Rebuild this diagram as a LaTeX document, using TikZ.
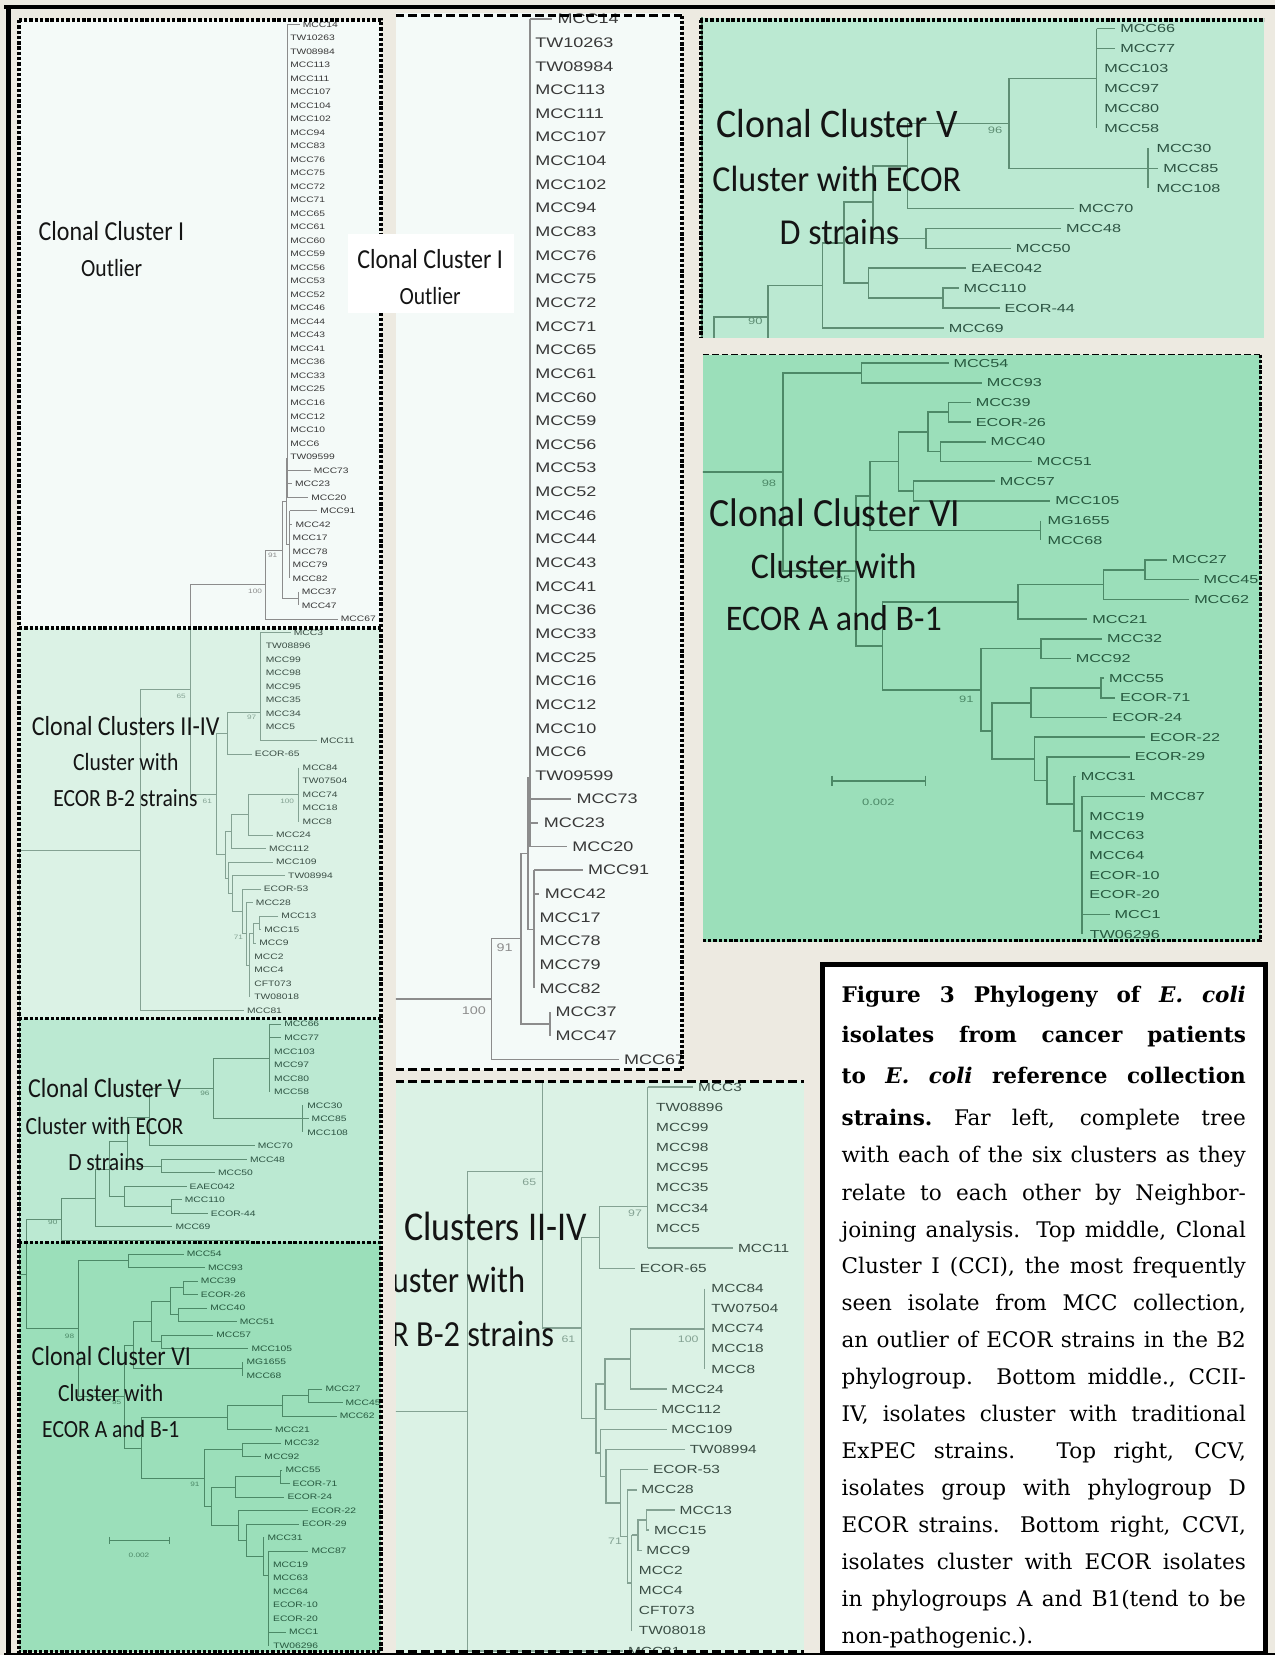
\documentclass[tikz,border=0pt]{standalone}
\usepackage{fontspec}
\setmainfont{DejaVu Serif}
\newfontfamily\clfont{Carlito}
\newfontfamily\lffont{Liberation Sans}

\definecolor{bgbeige}{HTML}{EDEAE1}
\definecolor{fillI}{HTML}{F4FAF8}
\definecolor{fillII}{HTML}{DBF2E5}
\definecolor{fillV}{HTML}{BBE9D2}
\definecolor{fillVI}{HTML}{9BDFBA}
\definecolor{lineI}{HTML}{8C8C8C}
\definecolor{textI}{HTML}{383838}
\definecolor{lineII}{HTML}{84A293}
\definecolor{textII}{HTML}{3A4D44}
\definecolor{lineV}{HTML}{5E8E74}
\definecolor{textV}{HTML}{2C5342}
\definecolor{lineVI}{HTML}{4C8967}
\definecolor{textVI}{HTML}{26583E}
\definecolor{clink}{HTML}{141414}
\colorlet{treecol}{lineI}
\colorlet{leafcol}{textI}
\def\tlw{0.4pt}

\tikzset{
  tl/.style={draw=treecol, line width=\tlw},
  leaf/.style={anchor=west, inner xsep=0.95pt, inner ysep=0pt, xscale=1.3,
    text=leafcol, font=\lffont\fontsize{3.75}{4}\selectfont},
  boot/.style={inner sep=0pt, xscale=1.3, text=treecol,
    font=\lffont\fontsize{3}{3.5}\selectfont},
  cltitle/.style={inner sep=0pt, xscale=0.875, text=clink,
    font=\clfont\fontsize{13}{15}\selectfont},
  clsub/.style={cltitle, font=\clfont\fontsize{11.7}{14}\selectfont},
  sqborder/.style={line width=1.6pt, dash pattern=on 1.6pt off 0.9pt},
  lgborder/.style={line width=1.4pt, dash pattern=on 4pt off 2pt},
  thinborder/.style={line width=0.6pt, dash pattern=on 3pt off 1.5pt},
  capline/.style={anchor=base west, inner sep=0pt, font=\fontsize{10.2}{12}\selectfont},
}

% one leaf of the tree: x, row, name
\newcommand\leafat[3]{\node[leaf] (lf#2) at (#1,#2) {#3};}

% the complete tree, x in px, y in rows
\newcommand\clustertree{%
\begin{scope}[y={(0,-6.4pt)}, yshift=-5.2pt]
  % root
  \draw[tl] (132.6,62.1) -- (18,62.1) -- (18,93.48) -- (25.3,93.48);
  % cluster I
  \draw[tl] (272,1) -- (272,36);
  \draw[tl] (272,1) -- (284,1) (272,34) -- (294.3,34) (272,35) -- (276.6,35) (272,36) -- (292,36);
  \draw[tl] (274.3,37) -- (274.3,42) (274.3,37) -- (300.6,37) (274.3,38) -- (277.1,38);
  \draw[tl] (272,33.1) -| (270.9,39.5) -- (274.3,39.5);
  \draw[tl] (270.9,36.3) -| (267.1,43.5) -- (282.9,43.5);
  \draw[tl] (282.9,43) -- (282.9,44);
  \draw[tl] (267.1,39.9) -| (251.1,45) -- (320,45);
  \draw[tl] (251.1,42.45) -| (180.1,57.96) -- (204.7,57.96);
  \leafat{284}{1}{MCC14}
  \foreach \r/\t in {2/TW10263,3/TW08984,4/MCC113,5/MCC111,6/MCC107,7/MCC104,
      8/MCC102,9/MCC94,10/MCC83,11/MCC76,12/MCC75,13/MCC72,14/MCC71,15/MCC65,
      16/MCC61,17/MCC60,18/MCC59,19/MCC56,20/MCC53,21/MCC52,22/MCC46,23/MCC44,
      24/MCC43,25/MCC41,26/MCC36,27/MCC33,28/MCC25,29/MCC16,30/MCC12,31/MCC10,
      32/MCC6,33/TW09599}
    {\leafat{272}{\r}{\t}}
  \leafat{294.3}{34}{MCC73}
  \leafat{276.6}{35}{MCC23}
  \leafat{292}{36}{MCC20}
  \leafat{300.6}{37}{MCC91}
  \leafat{277.1}{38}{MCC42}
  \foreach \r/\t in {39/MCC17,40/MCC78,41/MCC79,42/MCC82} {\leafat{274.3}{\r}{\t}}
  \foreach \r/\t in {43/MCC37,44/MCC47} {\leafat{282.9}{\r}{\t}}
  \leafat{320}{45}{MCC67}
  \node[boot] (bI91) at (258.3,40.3) {91};
  \node[boot] (bI100) at (241.7,42.96) {100};
  % clusters II-IV
  \draw[tl] (180.1,50.2) -| (132.6,74) -- (231.1,74);
  \draw[tl] (215.9,53.46) -| (204.7,62.46) -- (213.9,62.46);
  \draw[tl] (246.5,51.92) -| (215.9,55) -- (238.5,55);
  \draw[tl] (246.5,46) -- (246.5,54) (246.5,46) -- (275.4,46) (246.5,54) -- (300.6,54);
  \draw[tl] (219.5,60.75) -| (213.9,64.17) -- (216.8,64.17);
  \draw[tl] (235.7,59.5) -| (219.5,62) -- (252.1,62);
  \draw[tl] (282.3,58) -| (235.7,61) -- (258.5,61);
  \draw[tl] (282.3,56) -- (282.3,60);
  \draw[tl] (258.5,63) -| (216.8,65.33) -- (220.1,65.33);
  \draw[tl] (270.1,64) -| (220.1,66.66) -- (229.4,66.66);
  \draw[tl] (246.9,65) -| (229.4,68.31) -- (233.6,68.31);
  \draw[tl] (239.5,66) -| (233.6,70.63) -- (236.4,70.63);
  \draw[tl] (236.4,68.25) -- (236.4,73) (236.4,68.25) -- (240.5,68.25);
  \draw[tl] (245.8,67.5) -| (240.5,69) -- (242.7,69);
  \draw[tl] (263.7,67) -| (245.8,68) -- (247.5,68);
  \leafat{275.4}{46}{MCC3}
  \foreach \r/\t in {47/TW08896,48/MCC99,49/MCC98,50/MCC95,51/MCC35,52/MCC34,53/MCC5}
    {\leafat{248.9}{\r}{\t}}
  \leafat{300.6}{54}{MCC11}
  \leafat{238.5}{55}{ECOR-65}
  \foreach \r/\t in {56/MCC84,57/TW07504,58/MCC74,59/MCC18,60/MCC8} {\leafat{283.8}{\r}{\t}}
  \leafat{258.5}{61}{MCC24}
  \leafat{252.1}{62}{MCC112}
  \leafat{258.5}{63}{MCC109}
  \leafat{270.1}{64}{TW08994}
  \leafat{246.9}{65}{ECOR-53}
  \leafat{239.5}{66}{MCC28}
  \leafat{263.7}{67}{MCC13}
  \leafat{247.5}{68}{MCC15}
  \leafat{242.7}{69}{MCC9}
  \foreach \r/\t in {70/MCC2,71/MCC4,72/CFT073,73/TW08018} {\leafat{238}{\r}{\t}}
  \leafat{231.1}{74}{MCC81}
  \node[boot] (bII65) at (171.7,50.7) {65};
  \node[boot] (bII61) at (196.4,58.5) {61};
  \node[boot] (bII97) at (238.5,52.26) {97};
  \node[boot] (bII100) at (272.1,58.51) {100};
  \node[boot] (bII71) at (225.9,68.55) {71};
  % cluster V
  \draw[tl] (57.8,89.43) -| (25.3,97.53) -- (74.2,97.53);
  \draw[tl] (90.4,87.86) -| (57.8,91) -- (237,91);
  \draw[tl] (103.4,85.72) -| (90.4,90) -- (163.3,90);
  \draw[tl] (120.6,83.69) -| (103.4,87.75) -- (118,87.75);
  \draw[tl] (141.5,81.88) -| (120.6,85.5) -- (152.5,85.5);
  \draw[tl] (202.5,79.75) -| (141.5,84) -- (241.3,84);
  \draw[tl] (255.2,77.5) -| (202.5,82) -- (286.2,82);
  \draw[tl] (255.2,75) -- (255.2,80) (255.2,75) -- (266.4,75) (255.2,76) -- (266.4,76);
  \draw[tl] (286.2,81) -- (286.2,83) (286.2,82) -- (292.3,82);
  \draw[tl] (233.9,85) -| (152.5,86) -- (203.6,86);
  \draw[tl] (176.7,87) -| (118,88.5) -- (162.8,88.5);
  \draw[tl] (172.2,88) -| (162.8,89) -- (196.9,89);
  \leafat{266.4}{75}{MCC66}
  \leafat{266.4}{76}{MCC77}
  \foreach \r/\t in {77/MCC103,78/MCC97,79/MCC80,80/MCC58} {\leafat{256.8}{\r}{\t}}
  \leafat{288.2}{81}{MCC30}
  \leafat{292.3}{82}{MCC85}
  \leafat{288.2}{83}{MCC108}
  \leafat{241.3}{84}{MCC70}
  \leafat{233.9}{85}{MCC48}
  \leafat{203.6}{86}{MCC50}
  \leafat{176.7}{87}{EAEC042}
  \leafat{172.2}{88}{MCC110}
  \leafat{196.9}{89}{ECOR-44}
  \leafat{163.3}{90}{MCC69}
  \node[boot] (bV96) at (194.2,80.09) {96};
  \node[boot] (bV90) at (50,89.67) {90};
  % cluster VI
  \draw[tl] (121.6,92.5) -| (74.2,102.56) -- (118.3,102.56);
  \draw[tl] (174,92) -| (121.6,93) -- (194.1,93);
  \draw[tl] (126.8,98.75) -| (118.3,106.36) -- (134.3,106.36);
  \draw[tl] (143.9,97) -| (126.8,100.5) -- (229.3,100.5);
  \draw[tl] (161.8,95.5) -| (143.9,98.5) -- (152.8,98.5);
  \draw[tl] (174,94.5) -| (161.8,96.5) -- (169.1,96.5);
  \draw[tl] (187.4,94) -| (174,95) -- (187.4,95);
  \draw[tl] (196.3,96) -| (169.1,97) -- (224.2,97);
  \draw[tl] (201.9,98) -| (152.8,99) -- (235.3,99);
  \draw[tl] (229.3,100) -- (229.3,101);
  \draw[tl] (215.9,104.13) -| (134.3,108.59) -- (193.4,108.59);
  \draw[tl] (267.2,103.25) -| (215.9,105) -- (257.6,105);
  \draw[tl] (292.2,102.5) -| (267.2,104) -- (318.9,104);
  \draw[tl] (305.5,102) -| (292.2,103) -- (324.5,103);
  \draw[tl] (229.7,106.5) -| (193.4,110.67) -- (200.3,110.67);
  \draw[tl] (266.5,106) -| (229.7,107) -- (247.6,107);
  \draw[tl] (223.5,109.25) -| (200.3,112.1) -- (225.7,112.1);
  \draw[tl] (265.9,108.5) -| (223.5,110) -- (269.4,110);
  \draw[tl] (267.6,108) -| (265.9,109) -- (274.3,109);
  \draw[tl] (292.2,111) -| (225.7,113.19) -- (233.1,113.19);
  \draw[tl] (283.2,112) -| (233.1,114.38) -- (249.4,114.38);
  \draw[tl] (250.5,113) -| (249.4,115.76) -- (254.3,115.76);
  \draw[tl] (254.3,114) -- (254.3,121) (254.3,114) -- (292.2,114) (254.3,120) -- (271,120);
  \draw[tl] (103.8,113.23) -- (160.2,113.23) (103.8,112.95) -- (103.8,113.5) (160.2,112.95) -- (160.2,113.5);
  \leafat{174}{92}{MCC54}
  \leafat{194.1}{93}{MCC93}
  \leafat{187.4}{94}{MCC39}
  \leafat{187.4}{95}{ECOR-26}
  \leafat{196.3}{96}{MCC40}
  \leafat{224.2}{97}{MCC51}
  \leafat{201.9}{98}{MCC57}
  \leafat{235.3}{99}{MCC105}
  \leafat{230.6}{100}{MG1655}
  \leafat{230.6}{101}{MCC68}
  \leafat{305.5}{102}{MCC27}
  \leafat{324.5}{103}{MCC45}
  \leafat{318.9}{104}{MCC62}
  \leafat{257.6}{105}{MCC21}
  \leafat{266.5}{106}{MCC32}
  \leafat{247.6}{107}{MCC92}
  \leafat{267.6}{108}{MCC55}
  \leafat{274.3}{109}{ECOR-71}
  \leafat{269.4}{110}{ECOR-24}
  \leafat{292.2}{111}{ECOR-22}
  \leafat{283.2}{112}{ECOR-29}
  \leafat{250.6}{113}{MCC31}
  \leafat{292.2}{114}{MCC87}
  \foreach \r/\t in {115/MCC19,116/MCC63,117/MCC64,118/ECOR-10,119/ECOR-20} {\leafat{255.8}{\r}{\t}}
  \leafat{271}{120}{MCC1}
  \leafat{256}{121}{TW06296}
  \node[boot] (bVI98) at (65.9,98.1) {98};
  \node[boot] (bVI95) at (110.5,102.97) {95};
  \node[boot] (bVI91) at (184.7,109.05) {91};
  \node[boot] (scalelab) at (131.7,114.3) {0.002};
\end{scope}
% cluster names
\node[cltitle] (cI) at (105.6,219) {Clonal Cluster I};
\node[clsub] (cIa) at (105.8,254) {Outlier};
\node[cltitle] (cII) at (119.2,688) {Clonal Clusters II-IV};
\node[clsub] (cIIa) at (119.2,722) {Cluster with};
\node[clsub] (cIIb) at (118.9,756) {ECOR B-2 strains};
\node[cltitle] (cV) at (99.2,1031) {Clonal Cluster V};
\node[clsub] (cVa) at (99,1067) {Cluster with ECOR};
\node[clsub] (cVb) at (100.6,1101) {D strains};
\node[cltitle] (cVI) at (105.5,1285) {Clonal Cluster VI};
\node[clsub] (cVIa) at (104.8,1320) {Cluster with};
\node[clsub] (cVIb) at (105,1354) {ECOR A and B-1};
}

% clip, transform, line colour, text colour, line width
\newcommand\treepanel[5]{%
  \begin{scope}
    \clip #1;
    \colorlet{treecol}{#3}\colorlet{leafcol}{#4}\def\tlw{#5}%
    \begin{scope}[#2, transform shape]
      \clustertree
    \end{scope}
  \end{scope}}

\begin{document}
\begin{tikzpicture}[x=0.5pt, y=-0.5pt]
\useasboundingbox (0,0) rectangle (1208,1568);
\fill[bgbeige] (0,0) rectangle (1208,1568);

% panel fills
\fill[fillI] (18,19) rectangle (361,595);
\fill[fillII] (18,595) rectangle (361,965);
\fill[fillV] (18,965) rectangle (361,1177);
\fill[fillVI] (18,1177) rectangle (361,1565);
\fill[fillI] (375,12) rectangle (646,1014);
\fill[fillII] (375,1024) rectangle (762,1568);
\fill[fillV] (663,17) rectangle (1198,320);
\fill[fillVI] (666,336) rectangle (1195,892);

% far left, complete tree
\treepanel{(18,19) rectangle (361,595)}{shift={(0,0)}}{lineI}{textI}{0.4pt}
\treepanel{(18,595) rectangle (361,965)}{shift={(0,0)}}{lineII}{textII}{0.4pt}
\treepanel{(18,965) rectangle (361,1177)}{shift={(0,0)}}{lineV}{textV}{0.4pt}
\treepanel{(18,1177) rectangle (361,1565)}{shift={(0,0)}}{lineVI}{textVI}{0.4pt}
% enlarged parts
\treepanel{(375,12) rectangle (646,1014)}{shift={(26,-22.6)}, scale=1.75}{lineI}{textI}{0.7pt}
\treepanel{(375,1024) rectangle (762,1568)}{shift={(243.9,136.8)}, xscale=1.5, yscale=1.4906}{lineII}{textII}{0.7pt}
\treepanel{(663,17) rectangle (1198,320)}{shift={(636.8,-1408.1)}, xscale=1.576, yscale=1.4789}{lineV}{textV}{0.75pt}
\treepanel{(666,336) rectangle (1195,892)}{shift={(624.8,-1387.9)}, xscale=1.574, yscale=1.4578}{lineVI}{textVI}{0.75pt}

% borders
\draw[sqborder] (18,19) rectangle (361,1565);
\foreach \yy in {595,965,1177} \draw[sqborder] (18,\yy) -- (361,\yy);
\draw[lgborder] (375,15) -- (646,15);
\draw[sqborder] (646,15) -- (646,1013);
\draw[lgborder] (375,1013) -- (646,1013);
\draw[lgborder] (375,1025) -- (762,1025);
\draw[lgborder] (375,1565) -- (762,1565);
\draw[sqborder] (663,19) -- (1198,19);
\draw[sqborder] (664,19) -- (664,320);
\draw[thinborder] (666,336) -- (1195,336);
\draw[sqborder] (1194,336) -- (1194,891) -- (666,891);

% label of the top middle part
\fill[white] (330,222) rectangle (487,297);
\node[cltitle] (tmI) at (407.5,245) {Clonal Cluster I};
\node[clsub] (tmIa) at (407.5,280) {Outlier};

% outer frame
\draw[line width=2pt] (4,7) -- (1208,7);
\draw[line width=2.2pt] (8,5) -- (8,1568);
\draw[line width=1pt] (4,1567) -- (1208,1567);

% caption
\draw[line width=2.5pt, fill=white] (779,914) rectangle (1199,1567);
\node[capline] (cap1) at (797,950) {\makebox[191.5pt][s]{\textbf{Figure 3 Phylogeny of \textit{E. coli}}}};
\node[capline] (cap2) at (797,988) {\makebox[191.5pt][s]{\textbf{isolates from cancer patients}}};
\node[capline] (cap3) at (797,1027) {\makebox[191.5pt][s]{\textbf{to \textit{E. coli} reference collection}}};
\node[capline] (cap4) at (797,1066) {\makebox[191.5pt][s]{\textbf{strains.}\quad Far left, complete tree}};
\node[capline] (cap5) at (797,1101) {\makebox[191.5pt][s]{with each of the six clusters as they}};
\node[capline] (cap6) at (797,1137) {\makebox[191.5pt][s]{relate to each other by Neighbor-}};
\node[capline] (cap7) at (797,1172) {\makebox[191.5pt][s]{joining analysis. Top middle, Clonal}};
\node[capline] (cap8) at (797,1207) {\makebox[191.5pt][s]{Cluster I (CCI), the most frequently}};
\node[capline] (cap9) at (797,1242) {\makebox[191.5pt][s]{seen isolate from MCC collection,}};
\node[capline] (cap10) at (797,1277) {\makebox[191.5pt][s]{an outlier of ECOR strains in the B2}};
\node[capline] (cap11) at (797,1312) {\makebox[191.5pt][s]{phylogroup. Bottom middle., CCII-}};
\node[capline] (cap12) at (797,1347) {\makebox[191.5pt][s]{IV, isolates cluster with traditional}};
\node[capline] (cap13) at (797,1382) {\makebox[191.5pt][s]{ExPEC strains. Top right, CCV,}};
\node[capline] (cap14) at (797,1417) {\makebox[191.5pt][s]{isolates group with phylogroup D}};
\node[capline] (cap15) at (797,1452) {\makebox[191.5pt][s]{ECOR strains. Bottom right, CCVI,}};
\node[capline] (cap16) at (797,1487) {\makebox[191.5pt][s]{isolates cluster with ECOR isolates}};
\node[capline] (cap17) at (797,1522) {\makebox[191.5pt][s]{in phylogroups A and B1(tend to be}};
\node[capline] (cap18) at (797,1557) {non-pathogenic.).};
\end{tikzpicture}
\end{document}
